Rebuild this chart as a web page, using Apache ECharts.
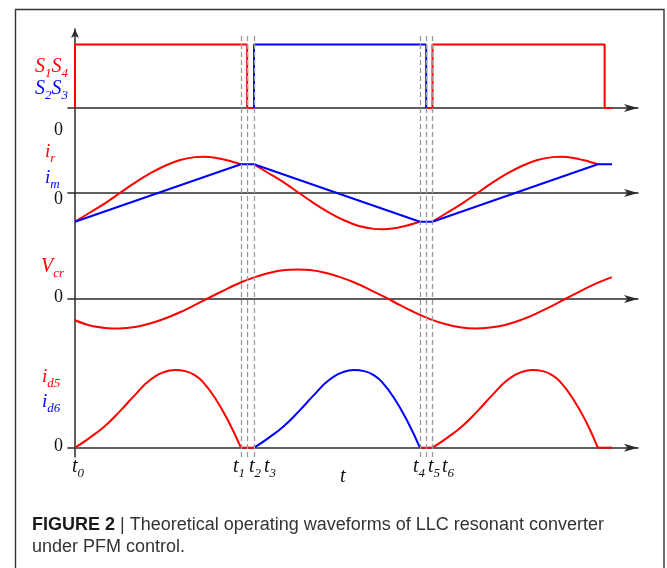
<!DOCTYPE html>
<html>
<head>
<meta charset="utf-8">
<script src="https://cdn.jsdelivr.net/npm/echarts@6.0.0/dist/echarts.min.js"></script>
<style>
  html, body { margin: 0; padding: 0; background: #fff; }
  #chart { width: 667px; height: 568px; }
</style>
</head>
<body>
<div id="chart"></div>
<script>
// ---- time instants (arbitrary time units, t0 = 0) ----
const tInstants = [29.1, 30.2, 31.4, 60.5, 61.6, 62.7];           // t1 .. t6
const tNames = ['t0', 't1', 't2', 't3', 't4', 't5', 't6'];

// ---- gate signals (0 = off, 1 = on) ----
const s14T_a = [0, 0, 30.2, 30.2, 31.4];
const s14V_a = [0, 1, 1, 0, 0];
const s14T_b = [61.6, 62.7, 62.7, 92.9, 92.9, 94.2];
const s14V_b = [0, 0, 1, 1, 0, 0];
const s23T = [31.4, 31.4, 61.6, 61.6];
const s23V = [0, 1, 1, 0];

// ---- magnetizing current i_m (normalized to its peak) ----
const imT = [0, 29.1, 31.4, 60.5, 62.7, 91.7, 94.2];
const imV = [-1, 1, 1, -1, -1, 1, 1];

// ---- resonant current i_r, one array pair per half cycle ----
const irT_a = [0, 2.63, 5.26, 7.89, 10.53, 13.16, 15.79, 18.42, 21.05, 22.5, 24.56, 26.84, 29.1];
const irV_a = [-1.0, -0.68, -0.36, 0, 0.36, 0.68, 0.95, 1.15, 1.25, 1.26, 1.23, 1.13, 1.0];
const irT_b = [31.4, 34.04, 36.67, 39.3, 41.93, 44.56, 47.19, 49.82, 52.46, 53.86, 55.96, 58.25, 60.5];
const irV_b = [1.0, 0.68, 0.36, 0, -0.36, -0.68, -0.95, -1.15, -1.25, -1.26, -1.23, -1.13, -1.0];
const irT_c = [62.7, 65.32, 67.95, 70.58, 73.21, 75.84, 78.47, 81.11, 83.74, 85.26, 87.19, 89.47, 91.7];
const irV_c = [-1.0, -0.68, -0.36, 0, 0.36, 0.68, 0.95, 1.15, 1.25, 1.26, 1.23, 1.13, 1.0];

// ---- resonant capacitor voltage V_cr ----
const vcrT = [0, 2.63, 5.26, 7.89, 10.53, 13.16, 15.79, 18.42, 21.05, 23.68, 26.32, 28.95, 31.58,
  34.21, 36.84, 39.12, 41.23, 43.86, 46.49, 49.12, 51.75, 54.39, 57.02, 59.65, 62.28, 64.91,
  67.54, 70.18, 72.81, 75.44, 78.07, 80.70, 83.33, 85.96, 88.60, 91.23, 94.16];
const vcrV = [-0.72, -0.90, -0.98, -1.0, -0.95, -0.83, -0.66, -0.45, -0.20, 0.06, 0.31, 0.55, 0.74,
  0.89, 0.98, 1.0, 0.98, 0.89, 0.74, 0.55, 0.31, 0.06, -0.21, -0.46, -0.68, -0.85,
  -0.96, -1.0, -0.97, -0.88, -0.72, -0.51, -0.27, 0, 0.26, 0.51, 0.74];

// ---- rectifier diode currents i_d5 / i_d6 (normalized) ----
const id5T_a = [0, 2.63, 5.26, 7.89, 10.53, 13.16, 15.79, 17.5, 19.5, 21.05, 22.5, 24.56, 26.84, 29.1];
const id5V_a = [0, 0.13, 0.28, 0.47, 0.68, 0.87, 0.977, 1.0, 0.982, 0.93, 0.84, 0.64, 0.35, 0];
const id6T = [31.4, 34.03, 36.66, 39.29, 41.93, 44.56, 47.19, 48.9, 50.9, 52.45, 53.9, 55.96, 58.24, 60.5];
const id6V = [0, 0.13, 0.28, 0.47, 0.68, 0.87, 0.977, 1.0, 0.982, 0.93, 0.84, 0.64, 0.35, 0];
const id5T_b = [62.7, 65.33, 67.96, 70.59, 73.23, 75.86, 78.49, 80.2, 82.2, 83.75, 85.2, 87.26, 89.54, 91.7];
const id5V_b = [0, 0.13, 0.28, 0.47, 0.68, 0.87, 0.977, 1.0, 0.982, 0.93, 0.84, 0.64, 0.35, 0];
const id5OffT = [[29.1, 31.4], [60.5, 62.7], [91.7, 94.2]];   // intervals where both diodes are off

// ---- drawing ----
const RED = '#ff0000';
const BLUE = '#0000ff';
const AXIS = '#2b2b2b';
const SERIF = "'Liberation Serif', 'Times New Roman', serif";
const SANS = "'Liberation Sans', Arial, Helvetica, sans-serif";

const T_MIN = -1.25, T_MAX = 98.75;

function pairs(t, v) { return t.map((x, i) => [x, v[i]]); }

function trace(panel, t, v, color, smooth, z) {
  return {
    type: 'line', xAxisIndex: panel, yAxisIndex: panel,
    data: pairs(t, v), symbol: 'none', showSymbol: false,
    smooth: smooth || false,
    lineStyle: { color: color, width: 2 }, itemStyle: { color: color },
    clip: false, silent: true, z: z || 3
  };
}

// panel layout: [top, height, yMin, yMax]
const panels = [
  [38.15, 69.85, 0, 1.1],
  [135.6, 114.8, -2, 2],
  [254.75, 88.5, -1.5, 1.5],
  [362.2, 85.5, 0, 1.1]
];

const grids = panels.map(p => ({ left: 67.875, right: 29, top: p[0], height: p[1], outerBoundsMode: 'none' }));
grids.push({ left: 75, right: 29, top: 29, height: 428, outerBoundsMode: 'none' });

const xAxes = panels.map((p, i) => ({
  type: 'value', gridIndex: i, min: T_MIN, max: T_MAX,
  axisLine: { show: true, onZero: true, symbol: ['none', 'arrow'], symbolSize: [6, 14],
    lineStyle: { color: AXIS, width: 1.5 } },
  axisTick: { show: false }, axisLabel: { show: false }, splitLine: { show: false }
}));
xAxes.push({ type: 'value', gridIndex: 4, min: 0, max: T_MAX, show: false });

const yAxes = panels.map((p, i) => ({
  type: 'value', gridIndex: i, min: p[2], max: p[3], show: false
}));
yAxes.push({
  type: 'value', gridIndex: 4, min: 0, max: 100,
  axisLine: { show: true, symbol: ['none', 'arrow'], symbolSize: [6, 9],
    lineStyle: { color: AXIS, width: 1.5 } },
  axisTick: { show: false }, axisLabel: { show: false }, splitLine: { show: false }
});

const series = [
  // dashed instants t1..t6
  {
    type: 'line', xAxisIndex: 4, yAxisIndex: 4, data: [], symbol: 'none', silent: true, z: 1,
    markLine: {
      silent: true, symbol: ['none', 'none'], animation: false,
      label: { show: false },
      lineStyle: { color: '#9a9a9a', width: 1.3, type: [5, 3] },
      data: tInstants.map(t => [{ coord: [t, 0] }, { coord: [t, 98.6] }])
    }
  },
  // gate signals
  trace(0, s14T_a, s14V_a, RED),
  trace(0, s14T_b, s14V_b, RED),
  trace(0, s23T, s23V, BLUE),
  // resonant and magnetizing currents
  trace(1, irT_a, irV_a, RED, 0.3),
  trace(1, irT_b, irV_b, RED, 0.3),
  trace(1, irT_c, irV_c, RED, 0.3),
  trace(1, imT, imV, BLUE, false, 4),
  // capacitor voltage
  trace(2, vcrT, vcrV, RED, 0.3),
  // diode currents
  trace(3, id5T_a, id5V_a, RED, 0.5),
  trace(3, id6T, id6V, BLUE, 0.5),
  trace(3, id5T_b, id5V_b, RED, 0.5)
];
id5OffT.forEach(r => series.push(trace(3, r, [0, 0], RED)));

// italic symbol with subscripts, e.g. [['S','1'],['S','4']]
function mathLabel(x, yCenter, parts, color, size, subSize) {
  const text = parts.map(p => '{m|' + p[0] + '}' + (p[1] ? '{s|' + p[1] + '}' : '')).join('');
  const drop = Math.round(size * 0.5);
  return {
    type: 'text', x: x, y: yCenter - size / 2, silent: true, z: 10,
    style: {
      text: text, fill: color, align: 'left', verticalAlign: 'top',
      rich: {
        m: { fontFamily: SERIF, fontStyle: 'italic', fontSize: size, lineHeight: size,
             verticalAlign: 'top', fill: color, color: color },
        s: { fontFamily: SERIF, fontStyle: 'italic', fontSize: subSize, lineHeight: subSize,
             padding: [drop, 0, 0, 0], verticalAlign: 'top', fill: color, color: color }
      }
    }
  };
}

function zeroLabel(yCenter) {
  return {
    type: 'text', x: 63, y: yCenter, silent: true, z: 10,
    style: { text: '0', fill: '#111', font: '18px ' + SERIF, align: 'right', verticalAlign: 'middle' }
  };
}

const tLabelX = [72, 233, 249, 264, 413, 428, 442];

const graphics = [
  { type: 'rect', silent: true, z: 0,
    shape: { x: 15.5, y: 9.5, width: 648.5, height: 620 },
    style: { fill: 'none', stroke: '#333', lineWidth: 1.4 } },
  mathLabel(35, 67, [['S', '1'], ['S', '4']], RED, 20, 13),
  mathLabel(35, 89, [['S', '2'], ['S', '3']], BLUE, 20, 13),
  zeroLabel(130),
  mathLabel(45, 152, [['i', 'r']], RED, 19, 13),
  mathLabel(45, 178, [['i', 'm']], BLUE, 19, 13),
  zeroLabel(199),
  mathLabel(41, 267, [['V', 'cr']], RED, 20, 13),
  zeroLabel(297),
  mathLabel(42, 377, [['i', 'd5']], RED, 19, 13),
  mathLabel(42, 402, [['i', 'd6']], BLUE, 19, 13),
  zeroLabel(446),
  mathLabel(340, 477, [['t', '']], '#111', 20, 13),
  {
    type: 'text', x: 32, y: 525, silent: true, z: 10,
    style: {
      text: '{b|FIGURE 2} | Theoretical operating waveforms of LLC resonant converter',
      fill: '#333', font: '18px ' + SANS, align: 'left', verticalAlign: 'middle',
      rich: { b: { fontFamily: SANS, fontWeight: 'bold', fontSize: 18, fill: '#1a1a1a', color: '#1a1a1a' } }
    }
  },
  {
    type: 'text', x: 32, y: 547, silent: true, z: 10,
    style: { text: 'under PFM control.', fill: '#333', font: '18px ' + SANS, align: 'left', verticalAlign: 'middle' }
  }
];
tNames.forEach((n, i) => graphics.push(mathLabel(tLabelX[i], 467, [[n[0], n.slice(1)]], '#111', 20, 13)));

const chart = echarts.init(document.getElementById('chart'), null, { renderer: 'canvas' });
chart.setOption({
  animation: false,
  backgroundColor: '#ffffff',
  grid: grids,
  xAxis: xAxes,
  yAxis: yAxes,
  series: series,
  graphic: { elements: graphics }
});
</script>
</body>
</html>
